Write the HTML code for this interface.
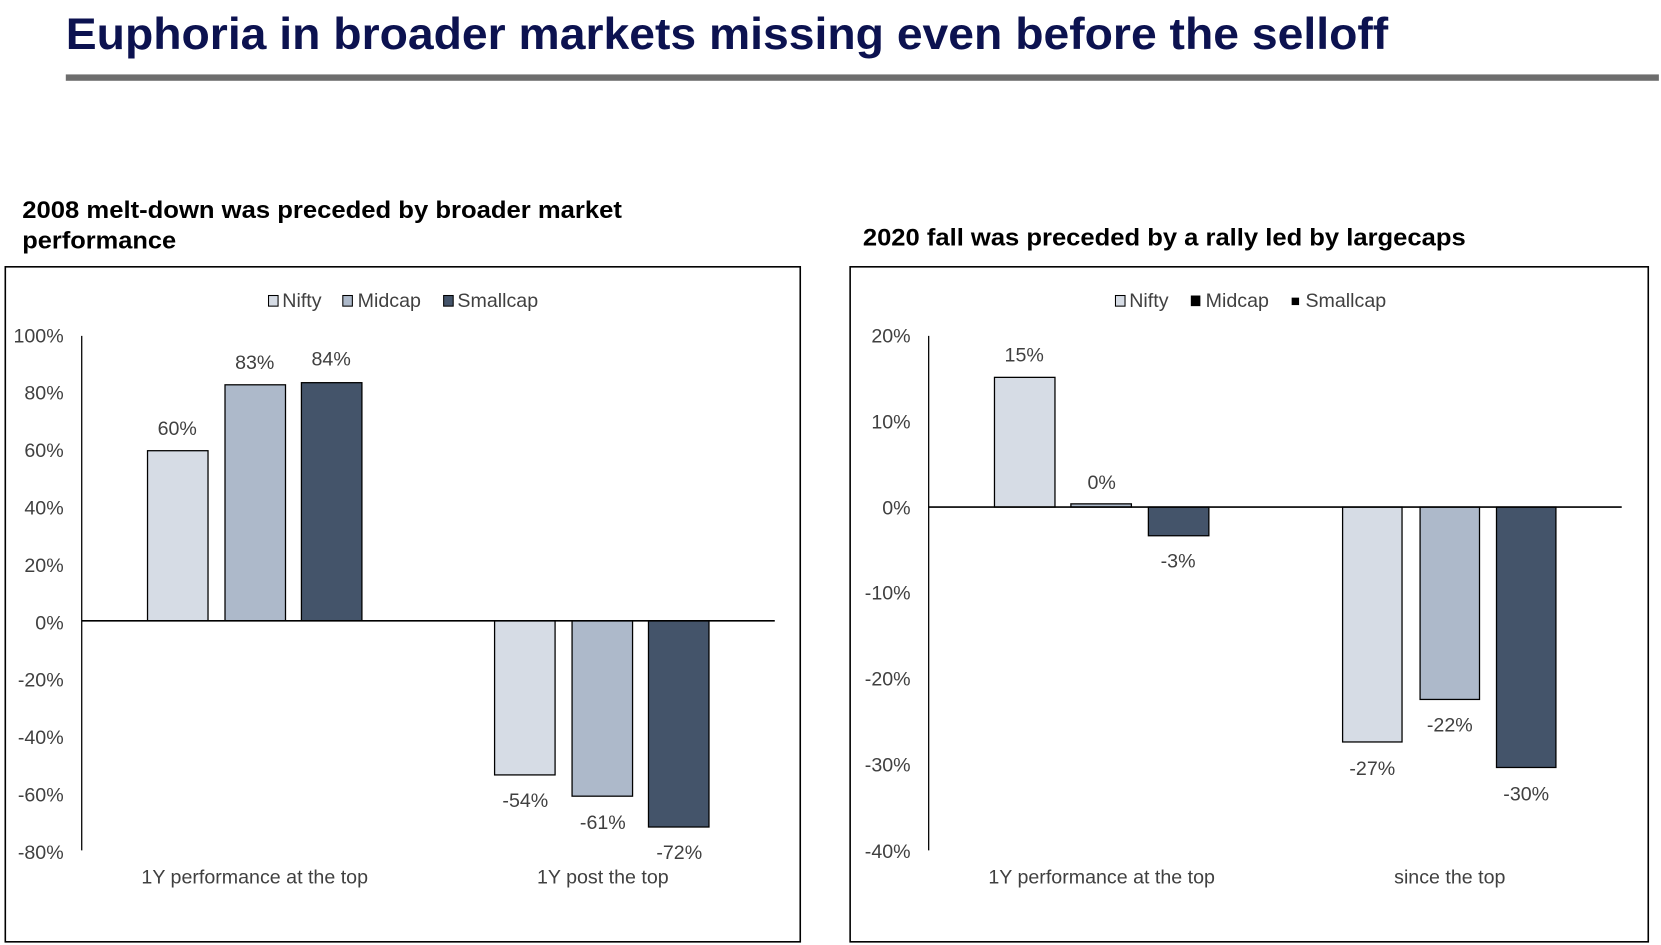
<!DOCTYPE html>
<html><head><meta charset="utf-8"><style>html,body{margin:0;padding:0;background:#fff;}svg{display:block}</style></head>
<body>
<svg width="1661" height="945" viewBox="0 0 1565 889" preserveAspectRatio="none" xmlns="http://www.w3.org/2000/svg" font-family="Liberation Sans, Arial, sans-serif">
<text x="62" y="46" font-size="42" font-weight="bold" fill="#0c1250" textLength="1246" lengthAdjust="spacingAndGlyphs">Euphoria in broader markets missing even before the selloff</text>
<rect x="62" y="70" width="1501" height="6" fill="#6d6d6d"/>
<g font-size="23" font-weight="bold" fill="#000">
<text x="21" y="205" textLength="565" lengthAdjust="spacingAndGlyphs">2008 melt-down was preceded by broader market</text>
<text x="21" y="234" textLength="145" lengthAdjust="spacingAndGlyphs">performance</text>
<text x="813" y="231" textLength="568" lengthAdjust="spacingAndGlyphs">2020 fall was preceded by a rally led by largecaps</text>
</g>
<rect x="5" y="251" width="749" height="635" fill="none" stroke="#000" stroke-width="1.5"/>
<rect x="801" y="251" width="752" height="635" fill="none" stroke="#000" stroke-width="1.5"/>
<g font-size="18.5" fill="#404040">
<rect x="253" y="278" width="9" height="10" fill="#d6dce5" stroke="#000"/><text x="266" y="289">Nifty</text>
<rect x="323" y="278" width="9" height="10" fill="#adb9ca" stroke="#000"/><text x="337" y="289">Midcap</text>
<rect x="418" y="278" width="9" height="10" fill="#44546a" stroke="#000"/><text x="431" y="289">Smallcap</text>
<g text-anchor="end">
<text x="60" y="322">100%</text><text x="60" y="376">80%</text><text x="60" y="430">60%</text><text x="60" y="484">40%</text><text x="60" y="538">20%</text><text x="60" y="592">0%</text><text x="60" y="646">-20%</text><text x="60" y="700">-40%</text><text x="60" y="754">-60%</text><text x="60" y="808">-80%</text>
</g>
<line x1="77" y1="316" x2="77" y2="800" stroke="#000" stroke-width="1.2"/>
<rect x="139" y="424" width="57" height="160" fill="#d6dce5" stroke="#000" stroke-width="1.2"/>
<rect x="212" y="362" width="57" height="222" fill="#adb9ca" stroke="#000" stroke-width="1.2"/>
<rect x="284" y="360" width="57" height="224" fill="#44546a" stroke="#000" stroke-width="1.2"/>
<rect x="466" y="584" width="57" height="145" fill="#d6dce5" stroke="#000" stroke-width="1.2"/>
<rect x="539" y="584" width="57" height="165" fill="#adb9ca" stroke="#000" stroke-width="1.2"/>
<rect x="611" y="584" width="57" height="194" fill="#44546a" stroke="#000" stroke-width="1.2"/>
<line x1="77" y1="584" x2="730" y2="584" stroke="#000" stroke-width="1.5"/>
<g text-anchor="middle">
<text x="167" y="409">60%</text><text x="240" y="347">83%</text><text x="312" y="344">84%</text>
<text x="495" y="759">-54%</text><text x="568" y="780">-61%</text><text x="640" y="808">-72%</text>
<text x="240" y="831">1Y performance at the top</text><text x="568" y="831">1Y post the top</text>
</g>
<rect x="1051" y="278" width="9" height="10" fill="#d6dce5" stroke="#000"/><text x="1064" y="289">Nifty</text>
<rect x="1122" y="278" width="9" height="10" fill="#000"/><text x="1136" y="289">Midcap</text>
<rect x="1217" y="280" width="7" height="7" fill="#000"/><text x="1230" y="289">Smallcap</text>
<g text-anchor="end">
<text x="858" y="322">20%</text><text x="858" y="403">10%</text><text x="858" y="484">0%</text><text x="858" y="564">-10%</text><text x="858" y="645">-20%</text><text x="858" y="726">-30%</text><text x="858" y="807">-40%</text>
</g>
<line x1="875" y1="316" x2="875" y2="800" stroke="#000" stroke-width="1.2"/>
<rect x="937" y="355" width="57" height="122" fill="#d6dce5" stroke="#000" stroke-width="1.2"/>
<rect x="1009" y="474" width="57" height="3" fill="#adb9ca" stroke="#000" stroke-width="1.2"/>
<rect x="1082" y="477" width="57" height="27" fill="#44546a" stroke="#000" stroke-width="1.2"/>
<rect x="1265" y="477" width="56" height="221" fill="#d6dce5" stroke="#000" stroke-width="1.2"/>
<rect x="1338" y="477" width="56" height="181" fill="#adb9ca" stroke="#000" stroke-width="1.2"/>
<rect x="1410" y="477" width="56" height="245" fill="#44546a" stroke="#000" stroke-width="1.2"/>
<line x1="875" y1="477" x2="1528" y2="477" stroke="#000" stroke-width="1.5"/>
<g text-anchor="middle">
<text x="965" y="340">15%</text><text x="1038" y="460">0%</text><text x="1110" y="534">-3%</text>
<text x="1293" y="729">-27%</text><text x="1366" y="688">-22%</text><text x="1438" y="753">-30%</text>
<text x="1038" y="831">1Y performance at the top</text><text x="1366" y="831">since the top</text>
</g>
</g>
</svg>
</body></html>
